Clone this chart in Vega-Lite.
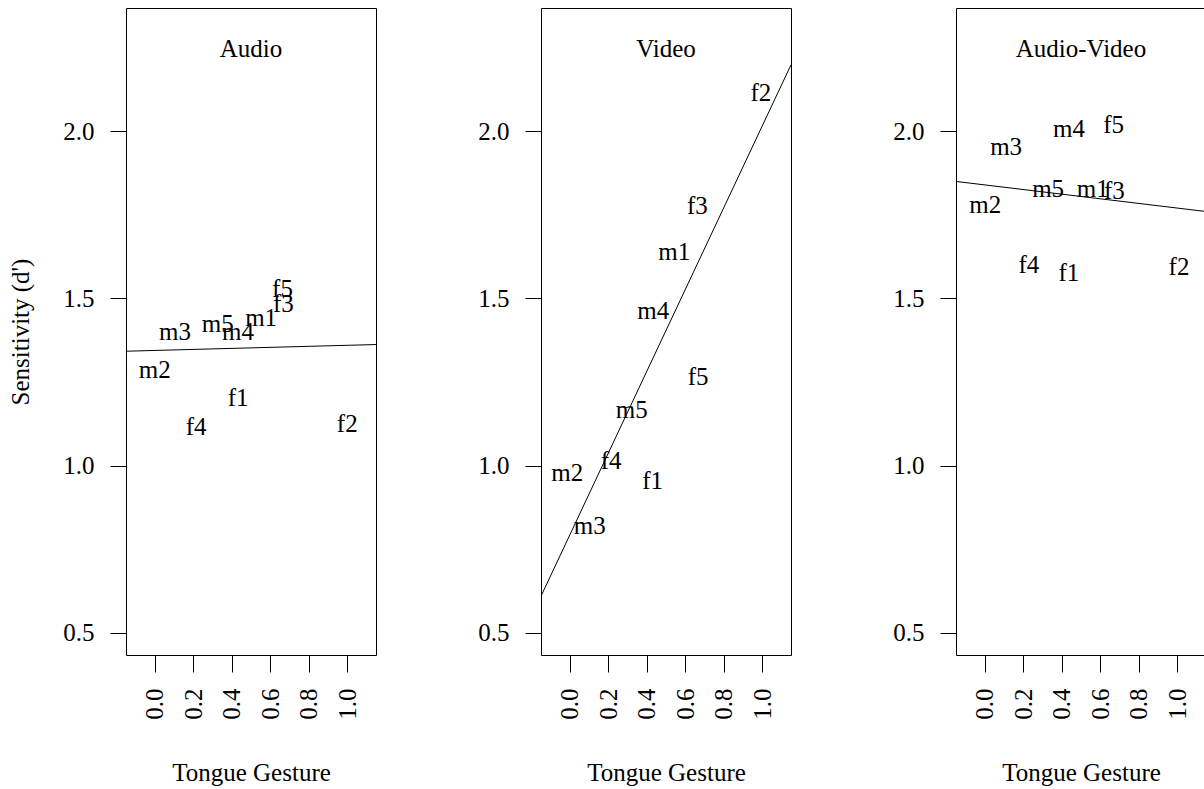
{
  "$schema": "https://vega.github.io/schema/vega-lite/v6.json",
  "background": "white",
  "padding": {"left": 8, "top": 7, "right": 0, "bottom": 0},
  "bounds": "flush",
  "spacing": 165,
  "datasets": {
    "pts": [
      {"panel": "Audio", "label": "f5", "x": 0.664, "y": 1.529},
      {"panel": "Audio", "label": "f3", "x": 0.668, "y": 1.482},
      {"panel": "Audio", "label": "m1", "x": 0.553, "y": 1.440},
      {"panel": "Audio", "label": "m5", "x": 0.328, "y": 1.423},
      {"panel": "Audio", "label": "m4", "x": 0.433, "y": 1.400},
      {"panel": "Audio", "label": "m3", "x": 0.106, "y": 1.400},
      {"panel": "Audio", "label": "m2", "x": 0.001, "y": 1.285},
      {"panel": "Audio", "label": "f1", "x": 0.434, "y": 1.202},
      {"panel": "Audio", "label": "f4", "x": 0.216, "y": 1.115},
      {"panel": "Audio", "label": "f2", "x": 1.000, "y": 1.124},
      {"panel": "Video", "label": "f2", "x": 0.993, "y": 2.116},
      {"panel": "Video", "label": "f3", "x": 0.663, "y": 1.778},
      {"panel": "Video", "label": "m1", "x": 0.543, "y": 1.638},
      {"panel": "Video", "label": "m4", "x": 0.434, "y": 1.462},
      {"panel": "Video", "label": "f5", "x": 0.667, "y": 1.266},
      {"panel": "Video", "label": "m5", "x": 0.323, "y": 1.166},
      {"panel": "Video", "label": "f4", "x": 0.216, "y": 1.013},
      {"panel": "Video", "label": "m2", "x": -0.012, "y": 0.977},
      {"panel": "Video", "label": "f1", "x": 0.431, "y": 0.953},
      {"panel": "Video", "label": "m3", "x": 0.105, "y": 0.820},
      {"panel": "Audio-Video", "label": "m4", "x": 0.438, "y": 2.007},
      {"panel": "Audio-Video", "label": "f5", "x": 0.670, "y": 2.019},
      {"panel": "Audio-Video", "label": "m3", "x": 0.112, "y": 1.953},
      {"panel": "Audio-Video", "label": "m5", "x": 0.330, "y": 1.828},
      {"panel": "Audio-Video", "label": "m1", "x": 0.561, "y": 1.828},
      {"panel": "Audio-Video", "label": "f3", "x": 0.674, "y": 1.821},
      {"panel": "Audio-Video", "label": "m2", "x": 0.004, "y": 1.779},
      {"panel": "Audio-Video", "label": "f4", "x": 0.230, "y": 1.601},
      {"panel": "Audio-Video", "label": "f1", "x": 0.438, "y": 1.575},
      {"panel": "Audio-Video", "label": "f2", "x": 1.009, "y": 1.595}
    ],
    "fit": [
      {"panel": "Audio", "x": -0.148, "y": 1.342},
      {"panel": "Audio", "x": 1.149, "y": 1.362},
      {"panel": "Video", "x": -0.148, "y": 0.609},
      {"panel": "Video", "x": 1.149, "y": 2.199},
      {"panel": "Audio-Video", "x": -0.148, "y": 1.850},
      {"panel": "Audio-Video", "x": 1.149, "y": 1.760}
    ]
  },
  "config": {
    "font": "Liberation Serif",
    "view": {"stroke": "black", "strokeWidth": 1},
    "axis": {
      "domain": false,
      "grid": false,
      "tickColor": "black",
      "tickWidth": 1,
      "labelFont": "Liberation Serif",
      "labelFontSize": 25,
      "labelColor": "black",
      "titleFont": "Liberation Serif",
      "titleFontSize": 25,
      "titleFontWeight": "normal",
      "titleColor": "black"
    },
    "title": {"font": "Liberation Serif", "fontSize": 25, "fontWeight": "normal", "color": "black"}
  },
  "hconcat": [
    {
      "width": 250,
      "height": 647,
      "title": {"text": "Audio", "frame": "group", "anchor": "middle", "offset": -74, "baseline": "alphabetic"},
      "encoding": {
        "x": {"field": "x", "type": "quantitative", "scale": {"domain": [-0.148, 1.149], "nice": false, "zero": false},
              "axis": {"title": "Tongue Gesture", "values": [0, 0.2, 0.4, 0.6, 0.8, 1.0], "format": ".1f", "labelAngle": 270, "tickSize": 17, "labelPadding": 16, "titlePadding": 41}},
        "y": {"field": "y", "type": "quantitative", "scale": {"domain": [0.433, 2.369], "nice": false, "zero": false},
              "axis": {"title": "Sensitivity (d')", "values": [0.5, 1.0, 1.5, 2.0], "format": ".1f", "tickSize": 16, "labelPadding": 16, "titlePadding": 29}}
      },
      "layer": [
        {"data": {"name": "fit"}, "transform": [{"filter": "datum.panel === 'Audio'"}],
         "mark": {"type": "line", "color": "black", "strokeWidth": 1, "clip": true}},
        {"data": {"name": "pts"}, "transform": [{"filter": "datum.panel === 'Audio'"}],
         "mark": {"type": "text", "font": "Liberation Serif", "fontSize": 25, "color": "black", "align": "center", "baseline": "middle"},
         "encoding": {"text": {"field": "label", "type": "nominal"}}}
      ]
    },
    {
      "width": 250,
      "height": 647,
      "title": {"text": "Video", "frame": "group", "anchor": "middle", "offset": -74, "baseline": "alphabetic"},
      "encoding": {
        "x": {"field": "x", "type": "quantitative", "scale": {"domain": [-0.148, 1.149], "nice": false, "zero": false},
              "axis": {"title": "Tongue Gesture", "values": [0, 0.2, 0.4, 0.6, 0.8, 1.0], "format": ".1f", "labelAngle": 270, "tickSize": 17, "labelPadding": 16, "titlePadding": 41}},
        "y": {"field": "y", "type": "quantitative", "scale": {"domain": [0.433, 2.369], "nice": false, "zero": false},
              "axis": {"title": null, "values": [0.5, 1.0, 1.5, 2.0], "format": ".1f", "tickSize": 16, "labelPadding": 16}}
      },
      "layer": [
        {"data": {"name": "fit"}, "transform": [{"filter": "datum.panel === 'Video'"}],
         "mark": {"type": "line", "color": "black", "strokeWidth": 1, "clip": true}},
        {"data": {"name": "pts"}, "transform": [{"filter": "datum.panel === 'Video'"}],
         "mark": {"type": "text", "font": "Liberation Serif", "fontSize": 25, "color": "black", "align": "center", "baseline": "middle"},
         "encoding": {"text": {"field": "label", "type": "nominal"}}}
      ]
    },
    {
      "width": 250,
      "height": 647,
      "title": {"text": "Audio-Video", "frame": "group", "anchor": "middle", "offset": -74, "baseline": "alphabetic"},
      "encoding": {
        "x": {"field": "x", "type": "quantitative", "scale": {"domain": [-0.148, 1.149], "nice": false, "zero": false},
              "axis": {"title": "Tongue Gesture", "values": [0, 0.2, 0.4, 0.6, 0.8, 1.0], "format": ".1f", "labelAngle": 270, "tickSize": 17, "labelPadding": 16, "titlePadding": 41}},
        "y": {"field": "y", "type": "quantitative", "scale": {"domain": [0.433, 2.369], "nice": false, "zero": false},
              "axis": {"title": null, "values": [0.5, 1.0, 1.5, 2.0], "format": ".1f", "tickSize": 16, "labelPadding": 16}}
      },
      "layer": [
        {"data": {"name": "fit"}, "transform": [{"filter": "datum.panel === 'Audio-Video'"}],
         "mark": {"type": "line", "color": "black", "strokeWidth": 1, "clip": true}},
        {"data": {"name": "pts"}, "transform": [{"filter": "datum.panel === 'Audio-Video'"}],
         "mark": {"type": "text", "font": "Liberation Serif", "fontSize": 25, "color": "black", "align": "center", "baseline": "middle"},
         "encoding": {"text": {"field": "label", "type": "nominal"}}}
      ]
    }
  ]
}
